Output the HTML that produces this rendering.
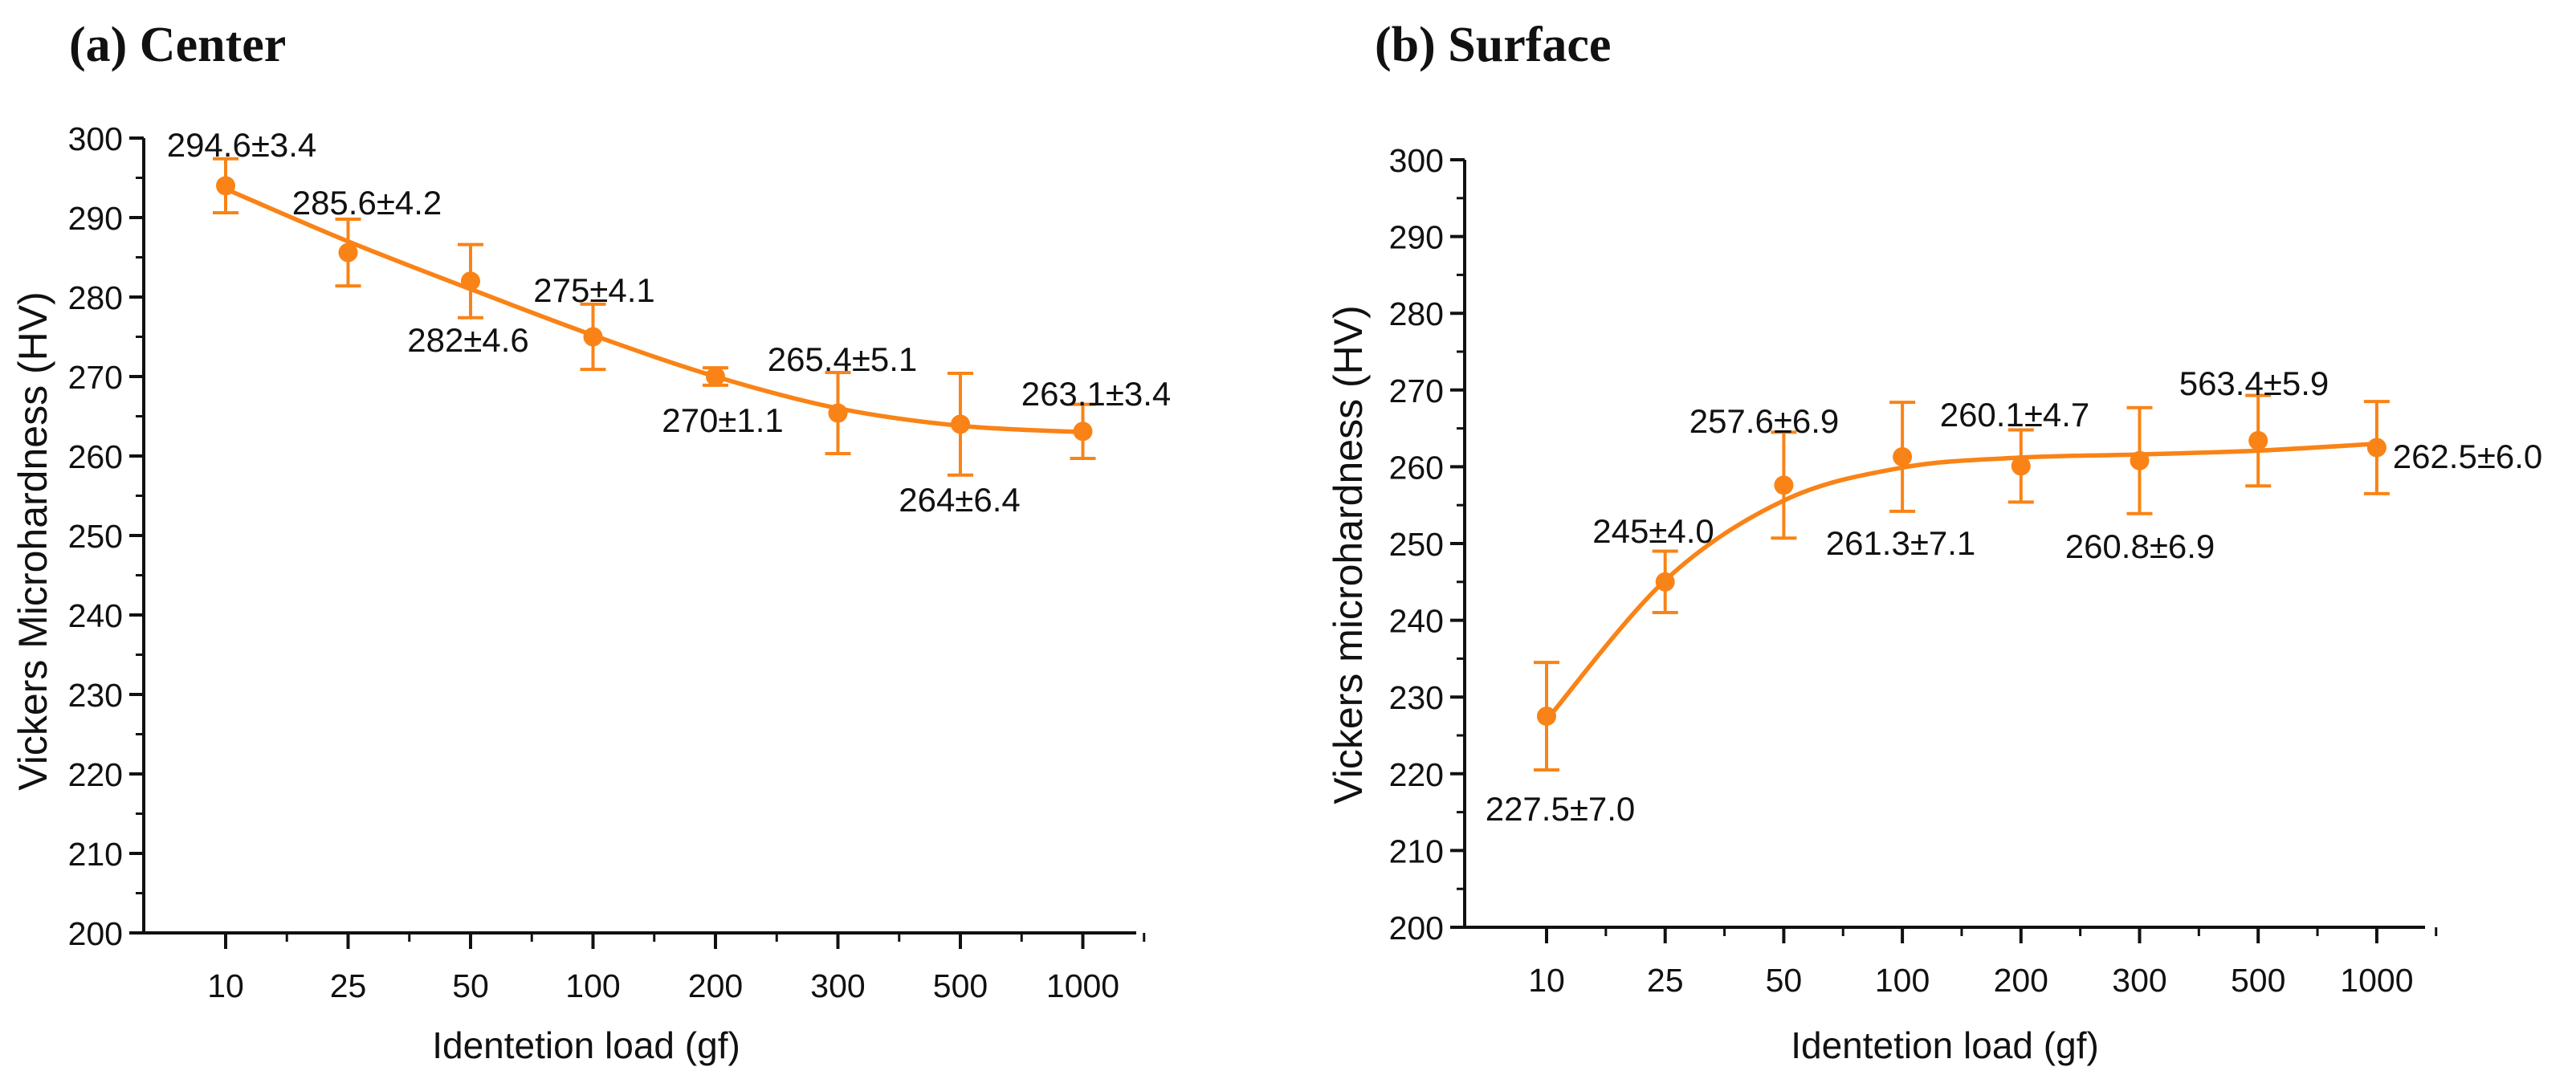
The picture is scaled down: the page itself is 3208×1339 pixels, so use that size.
<!DOCTYPE html>
<html><head><meta charset="utf-8"><style>
html,body{margin:0;padding:0;background:#fff;}
svg{display:block;}
text{font-family:"Liberation Sans",sans-serif;fill:#111;}
</style></head><body>
<svg id="fig" width="3208" height="1339" viewBox="0 0 3208 1339" xmlns="http://www.w3.org/2000/svg">
<text x="86" y="76" style="font-family:'Liberation Serif',serif;font-weight:bold;font-size:62px">(a) Center</text>
<text x="1712" y="76" style="font-family:'Liberation Serif',serif;font-weight:bold;font-size:62px">(b) Surface</text>
</svg>
<script>
const categories = ["10","25","50","100","200","300","500","1000"];
const yTicks = [200,210,220,230,240,250,260,270,280,290,300];
const centerValues = [294.0, 285.6, 282.0, 275.0, 270.0, 265.4, 264.0, 263.1];
const centerErrors = [3.4, 4.2, 4.6, 4.1, 1.1, 5.1, 6.4, 3.4];
const centerLabels = ["294.6±3.4","285.6±4.2","282±4.6","275±4.1","270±1.1","265.4±5.1","264±6.4","263.1±3.4"];
const centerFit = [293.6, 287.0, 281.0, 275.2, 270.0, 266.0, 263.8, 263.0];
const surfaceValues = [227.5, 245.0, 257.6, 261.3, 260.1, 260.8, 263.4, 262.5];
const surfaceErrors = [7.0, 4.0, 6.9, 7.1, 4.7, 6.9, 5.9, 6.0];
const surfaceLabels = ["227.5±7.0","245±4.0","257.6±6.9","261.3±7.1","260.1±4.7","260.8±6.9","563.4±5.9","262.5±6.0"];
const surfaceFit = [227.0, 245.2, 255.6, 259.9, 261.2, 261.6, 262.1, 263.0];

const NS = "http://www.w3.org/2000/svg";
const svg = document.getElementById('fig');
const ORANGE = "#f98316";
function mk(tag, attrs, parent){const e=document.createElementNS(NS,tag);for(const k in attrs)e.setAttribute(k,attrs[k]);(parent||svg).appendChild(e);return e;}

function panel(cfg, values, errors, labels, fit){
  const g = mk('g',{});
  
  
  const X = i => cfg.x0 + i*cfg.dx;
  const Y = v => cfg.yBottom - (v-200)/100*(cfg.yBottom-cfg.yTop);
  const ya = mk('line',{x1:cfg.ax,y1:cfg.yTop,x2:cfg.ax,y2:cfg.yBottom,stroke:'#111','stroke-width':4},g);
  
  
  const xa = mk('line',{x1:cfg.ax-18,y1:cfg.yBottom,x2:cfg.axEnd,y2:cfg.yBottom,stroke:'#111','stroke-width':4},g);
  
  
  yTicks.forEach(t=>{
    mk('line',{x1:cfg.ax-18,y1:Y(t),x2:cfg.ax,y2:Y(t),stroke:'#111','stroke-width':4},g);
    if(t<300) mk('line',{x1:cfg.ax-10,y1:Y(t+5),x2:cfg.ax,y2:Y(t+5),stroke:'#111','stroke-width':3},g);
    const tl = mk('text',{x:cfg.ax-26,y:Y(t)+15,'text-anchor':'end','font-size':41},g);
    tl.textContent = t;
    
    
  });
  categories.forEach((c,i)=>{
    mk('line',{x1:X(i),y1:cfg.yBottom,x2:X(i),y2:cfg.yBottom+20,stroke:'#111','stroke-width':4},g);
    mk('line',{x1:X(i)+cfg.dx/2,y1:cfg.yBottom,x2:X(i)+cfg.dx/2,y2:cfg.yBottom+11,stroke:'#111','stroke-width':3},g);
    const tl = mk('text',{x:X(i),y:cfg.yBottom+80,'text-anchor':'middle','font-size':41},g);
    tl.textContent = c;
    
    
  });
  const xt = mk('text',{x:cfg.xTitleX,y:1318,'text-anchor':'middle','font-size':46},g);
  xt.textContent = "Identetion load (gf)";
  
  
  const yt = mk('text',{x:0,y:0,'text-anchor':'middle','font-size':50,transform:`translate(${cfg.yTitleX},${cfg.yTitleY}) rotate(-90)`},g);
  yt.textContent = cfg.yTitle;
  
  
  const pts = fit.map((v,i)=>[X(i),Y(v)]);
  let d = `M${pts[0][0]},${pts[0][1]}`;
  for(let i=0;i<pts.length-1;i++){
    const p0=pts[Math.max(0,i-1)],p1=pts[i],p2=pts[i+1],p3=pts[Math.min(pts.length-1,i+2)];
    const c1=[p1[0]+(p2[0]-p0[0])/6,p1[1]+(p2[1]-p0[1])/6];
    const c2=[p2[0]-(p3[0]-p1[0])/6,p2[1]-(p3[1]-p1[1])/6];
    d+=` C${c1[0]},${c1[1]} ${c2[0]},${c2[1]} ${p2[0]},${p2[1]}`;
  }
  const fl = mk('path',{d:d,fill:'none',stroke:ORANGE,'stroke-width':5.5},g);
  
  
  values.forEach((v,i)=>{
    const x=X(i), top=Y(v+errors[i]), bot=Y(v-errors[i]);
    const eb = mk('path',{d:`M${x},${top}V${bot}M${x-16},${top}H${x+16}M${x-16},${bot}H${x+16}`,stroke:ORANGE,'stroke-width':4,fill:'none'},g);
    
    
    const pt = mk('circle',{cx:x,cy:Y(v),r:12,fill:ORANGE},g);
    
    
    const lb = mk('text',{x:cfg.labelPos[i][0],y:cfg.labelPos[i][1]+15,'text-anchor':'middle','font-size':42},g);
    lb.textContent = labels[i];
    
    
  });
}

panel({name:'panel-a-chart',x0:281,dx:152.5,ax:179,axEnd:1415,yTop:172,yBottom:1162,
  xTitleX:730,yTitleX:58,yTitleY:674,yTitle:"Vickers Microhardness (HV)",
  labelPos:[[301,180],[457,252],[583,423],[740,361],[900,523],[1049,447],[1195,622],[1365,490]]},
  centerValues, centerErrors, centerLabels, centerFit);
panel({name:'panel-b-chart',x0:1926,dx:147.7,ax:1824,axEnd:3020,yTop:199,yBottom:1155,
  xTitleX:2422,yTitleX:1696,yTitleY:691,yTitle:"Vickers microhardness (HV)",
  labelPos:[[1943,1007],[2059,661],[2197,524],[2367,676],[2509,516],[2665,680],[2807,477],[3073,568]]},
  surfaceValues, surfaceErrors, surfaceLabels, surfaceFit);
</script>
</body></html>
